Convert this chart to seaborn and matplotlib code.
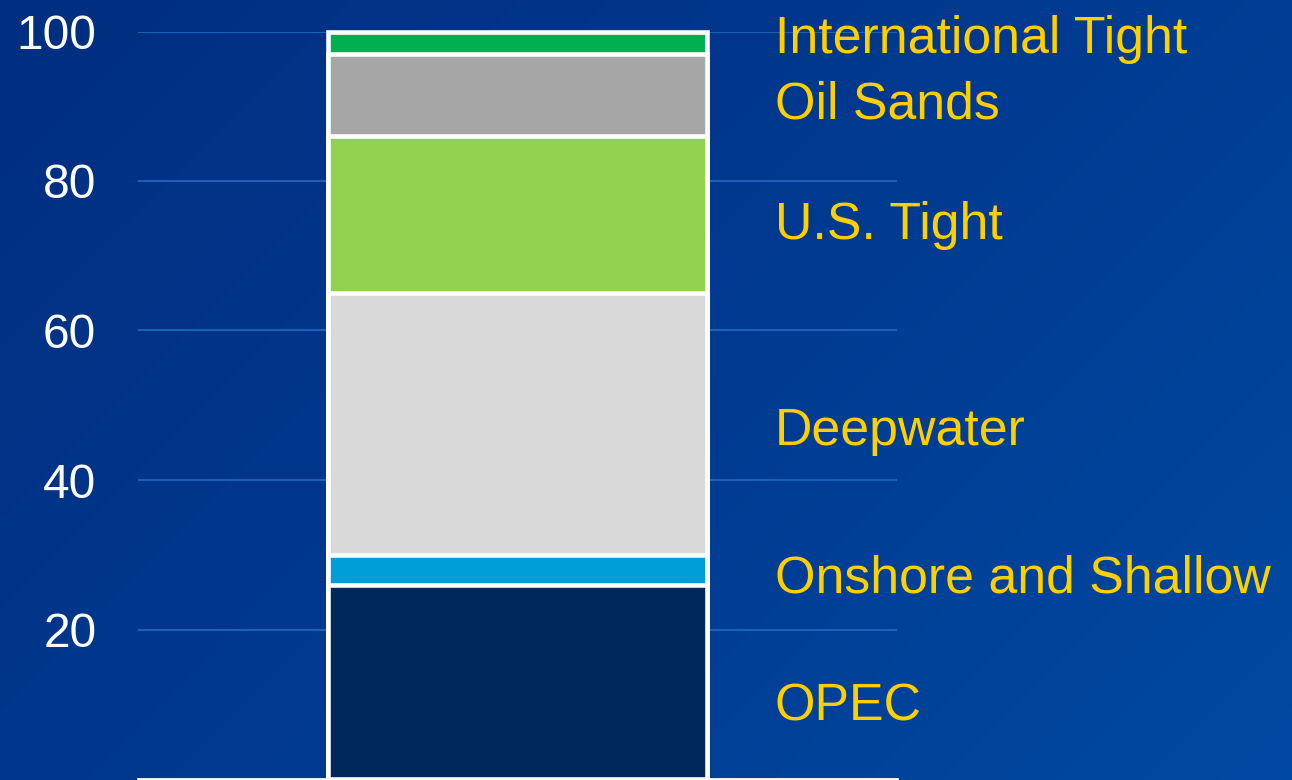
import numpy as np
import pandas as pd
import matplotlib
matplotlib.use("Agg")
import matplotlib.pyplot as plt
import seaborn as sns
from matplotlib.colors import LinearSegmentedColormap

# Supply mix (percent of total), stacked bottom to top
categories = ["OPEC", "Onshore and Shallow", "Deepwater", "U.S. Tight",
              "Oil Sands", "International Tight"]
shares = [26, 4, 35, 21, 11, 3]
segment_colors = ["#00285a", "#009ed8", "#d9d9d9", "#92d050", "#a6a6a6", "#00b050"]
y_ticks = [20, 40, 60, 80, 100]

df = pd.DataFrame({"source": categories, "share": shares})
df["top"] = df["share"].cumsum()
df["group"] = "mix"

sns.set_theme(style="white")
plt.rcParams["font.family"] = ["Liberation Sans", "DejaVu Sans"]

W, H = 1292, 780
fig = plt.figure(figsize=(W / 100, H / 100), dpi=100)

# Diagonal blue gradient backdrop
bg = fig.add_axes([0, 0, 1, 1], zorder=-5)
xx, yy = np.meshgrid(np.linspace(0, 1, 400), np.linspace(0, 1, 240))
t = (xx * W + yy * H) / (W + H)
cmap = LinearSegmentedColormap.from_list("bluebg", ["#002e80", "#003a90", "#0049a2"])
bg.imshow(t, cmap=cmap, aspect="auto", extent=[0, 1, 0, 1], origin="upper",
          interpolation="bilinear")
bg.set_axis_off()

ax = fig.add_axes([138 / W, 1 / H, 759 / W, 747.5 / H])
ax.set_facecolor("none")

# Stacked column: draw cumulative totals from the top down so each overlays the next
for i in range(len(df) - 1, -1, -1):
    sub = df.iloc[[i]]
    sns.barplot(data=sub, x="group", y="top", color=segment_colors[i],
                saturation=1, width=1.0, edgecolor="white", linewidth=3.3,
                ax=ax, zorder=3)
for p in ax.patches:
    p.set_clip_on(False)

ax.set_xlim(-1, 1)
ax.set_ylim(0, 100)
ax.set_yticks(y_ticks)
ax.set_xticks([])
ax.set_xlabel("")
ax.set_ylabel("")
ax.tick_params(axis="y", length=0, pad=30, labelsize=34.5, labelcolor="white")
ax.yaxis.grid(True, color="#1f6ac2", linewidth=1.2)
ax.set_axisbelow(True)
for side in ["left", "right", "top"]:
    ax.spines[side].set_visible(False)
ax.spines["bottom"].set_color("white")
ax.spines["bottom"].set_linewidth(2)

# Segment labels to the right of the column
label_baselines = [7.8, 25.0, 44.7, 72.2, 88.4, 97.1]
for name, yb in zip(df["source"], label_baselines):
    ax.text(0.839, yb, name, transform=ax.get_yaxis_transform(),
            color="#ffcf00", fontsize=37.4, ha="left", va="baseline")

fig.savefig("out.png", dpi=100)
